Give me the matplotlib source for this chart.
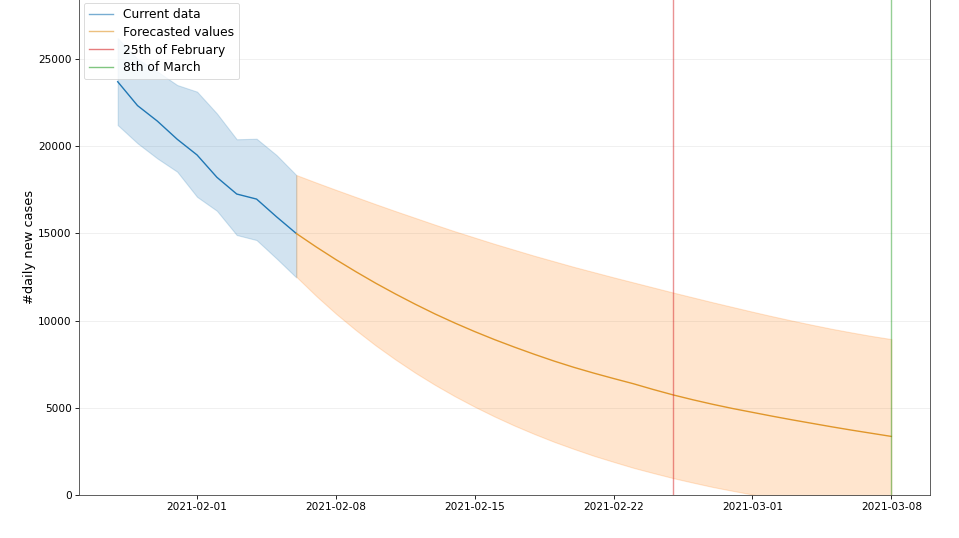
import numpy as np
import pandas as pd
import matplotlib
matplotlib.use("Agg")
import matplotlib.pyplot as plt
import matplotlib.dates as mdates

# ---- data ----
current_dates = pd.date_range("2021-01-28", "2021-02-06", freq="D")
current_values = [23700, 22330, 21440, 20400, 19500, 18220, 17260, 16970, 15960, 15000]
current_upper = [26200, 25000, 24280, 23510, 23130, 21880, 20400, 20430, 19500, 18350]
current_lower = [21215, 20170, 19300, 18540, 17100, 16300, 14910, 14620, 13570, 12480]

forecast_dates = pd.date_range("2021-02-06", "2021-03-08", freq="D")
forecast_values = [15000, 14230, 13500, 12810, 12150, 11530, 10940, 10380, 9860, 9370,
                   8910, 8480, 8070, 7680, 7320, 6990, 6680, 6380, 6050, 5740,
                   5460, 5200, 4960, 4740, 4520, 4310, 4110, 3910, 3720, 3540, 3360]
forecast_upper = [18350, 17920, 17500, 17090, 16680, 16280, 15890, 15500, 15120, 14760,
                  14400, 14060, 13720, 13400, 13080, 12780, 12480, 12190, 11900, 11610,
                  11330, 11050, 10780, 10510, 10250, 10000, 9760, 9530, 9320, 9120, 8940]
forecast_lower = [12520, 11420, 10400, 9460, 8580, 7770, 7010, 6310, 5660, 5060,
                  4500, 3980, 3500, 3050, 2640, 2250, 1900, 1560, 1260, 970,
                  710, 460, 240, 30, -170, -350, -520, -680, -820, -960, -1080]

marker_dates = [pd.Timestamp("2021-02-25"), pd.Timestamp("2021-03-08")]
marker_labels = ["25th of February", "8th of March"]
y_ticks = [0, 5000, 10000, 15000, 20000, 25000]

# ---- plot ----
fig = plt.figure(figsize=(9.59, 5.38), dpi=100)
ax = fig.add_axes([0.0824, 0.0799, 0.9698 - 0.0824, 0.9238])

ax.plot(current_dates, current_values, color="tab:blue", lw=1.0, label="Current data")
ax.fill_between(current_dates, current_lower, current_upper, color="tab:blue",
                alpha=0.2, lw=0.8)
ax.plot(forecast_dates, forecast_values, color="#e0962a", lw=1.0, label="Forecasted values")
ax.fill_between(forecast_dates, forecast_lower, forecast_upper, color="tab:orange",
                alpha=0.2, lw=0.8)

ax.axvline(marker_dates[0], color="tab:red", alpha=0.5, lw=1.0, label=marker_labels[0])
ax.axvline(marker_dates[1], color="tab:green", alpha=0.5, lw=1.0, label=marker_labels[1])

ax.set_ylim(0, 28500)
ax.set_yticks(y_ticks)
ax.yaxis.grid(True, color="#eeeeee", lw=0.6)
ax.set_axisbelow(True)
ax.set_ylabel("#daily new cases", fontsize=9.4, labelpad=1.5)

ax.xaxis.set_major_locator(mdates.DayLocator(bymonthday=[1, 8, 15, 22]))
ax.xaxis.set_major_formatter(mdates.DateFormatter("%Y-%m-%d"))
ax.margins(x=0.05)
ax.tick_params(labelsize=7.6, length=2.6, width=0.6, pad=2.6)

for sp in ax.spines.values():
    sp.set_color("#444444")
    sp.set_linewidth(0.6)

leg = ax.legend(loc="upper left", fontsize=8.8, framealpha=0.8,
                borderaxespad=0.4, labelspacing=0.4)
leg.get_frame().set_linewidth(0.6)
for line in leg.get_lines():
    line.set_alpha(0.6)

fig.savefig("out.png", dpi=100)
